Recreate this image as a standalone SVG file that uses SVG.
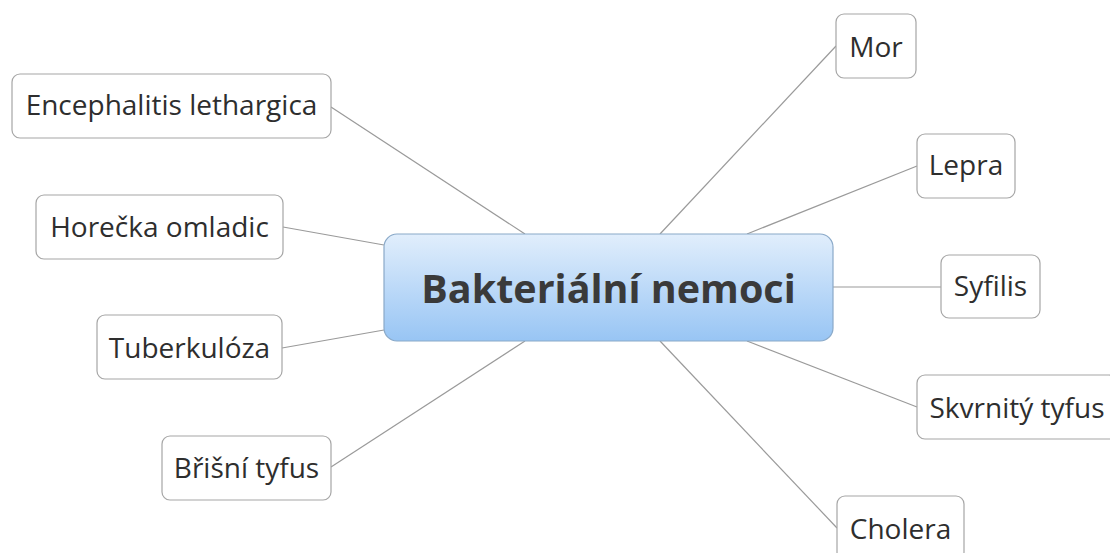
<svg xmlns="http://www.w3.org/2000/svg" width="1110" height="553" viewBox="0 0 1110 553">
<defs>
<linearGradient id="cg" x1="0" y1="0" x2="0" y2="1">
<stop offset="0" stop-color="#e1eefc"/>
<stop offset="1" stop-color="#98c5f4"/>
</linearGradient>
<style>
.leaf rect{fill:#ffffff;stroke:#a6a6a6;stroke-width:1.2}
.leaf text{font-family:"Open Sans","Noto Sans",sans-serif;font-size:28px;fill:#2e2e2e;text-anchor:middle}
.conn line{stroke:#9a9a9a;stroke-width:1.2}
</style>
</defs>
<rect width="1110" height="553" fill="#ffffff"/>
<g class="conn">
<line x1="331" y1="107" x2="525" y2="234"/>
<line x1="283" y1="227" x2="384" y2="245"/>
<line x1="282" y1="348" x2="384" y2="330"/>
<line x1="331" y1="467" x2="525" y2="341"/>
<line x1="836" y1="46" x2="660" y2="234"/>
<line x1="917" y1="166" x2="747" y2="234"/>
<line x1="833" y1="287" x2="941" y2="287"/>
<line x1="917" y1="407" x2="747" y2="341"/>
<line x1="837" y1="528" x2="660" y2="341"/>
</g>
<g id="center">
<rect x="384" y="234" width="449" height="107" rx="13" fill="url(#cg)" stroke="#8aa9c8" stroke-width="1.2"/>
<text x="608.5" y="303" font-family="'Open Sans','Noto Sans',sans-serif" font-size="39.5" font-weight="bold" fill="#3a3a3a" text-anchor="middle">Bakteriální nemoci</text>
</g>
<g id="encephalitis" class="leaf"><rect x="12" y="74" width="319" height="64" rx="8"/><text x="171.5" y="115">Encephalitis lethargica</text></g>
<g id="horecka" class="leaf"><rect x="36" y="195" width="247" height="64" rx="8"/><text x="159.5" y="237">Horečka omladic</text></g>
<g id="tuberkuloza" class="leaf"><rect x="97" y="315" width="185" height="64" rx="8"/><text x="189.5" y="358">Tuberkulóza</text></g>
<g id="brisni" class="leaf"><rect x="162" y="436" width="169" height="64" rx="8"/><text x="246.5" y="478">Břišní tyfus</text></g>
<g id="mor" class="leaf"><rect x="836" y="14" width="80" height="64" rx="8"/><text x="876" y="57">Mor</text></g>
<g id="lepra" class="leaf"><rect x="917" y="134" width="98" height="64" rx="8"/><text x="966" y="175">Lepra</text></g>
<g id="syfilis" class="leaf"><rect x="941" y="255" width="99" height="63" rx="8"/><text x="990.5" y="296">Syfilis</text></g>
<g id="skvrnity" class="leaf"><rect x="917" y="375" width="200" height="64" rx="8"/><text x="1017" y="418">Skvrnitý tyfus</text></g>
<g id="cholera" class="leaf"><rect x="837" y="496" width="127" height="64" rx="8"/><text x="900.5" y="539">Cholera</text></g>
</svg>
